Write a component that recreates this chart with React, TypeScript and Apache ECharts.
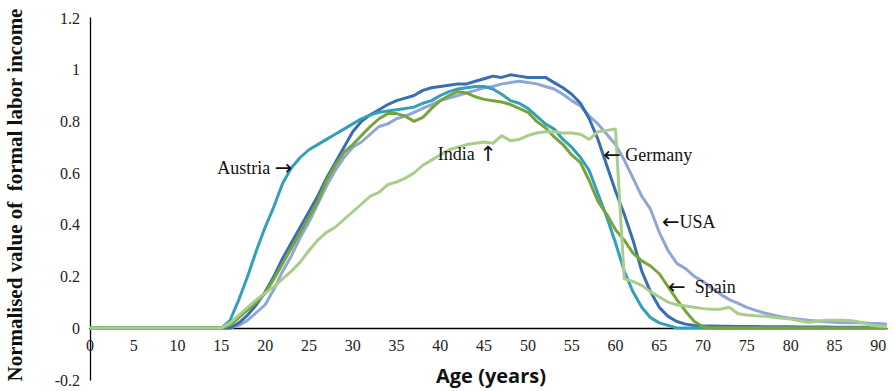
import React, { useEffect, useRef } from "react";
import * as echarts from "echarts";

const ages: number[] = Array.from({ length: 92 }, (_, i) => i);

const zeros16 = [0, 0, 0, 0, 0, 0, 0, 0, 0, 0, 0, 0, 0, 0, 0, 0];

const austria: number[] = [
  ...zeros16,
  0.03, 0.11, 0.2, 0.3, 0.39, 0.47, 0.56, 0.62, 0.66, 0.69,
  0.71, 0.73, 0.75, 0.77, 0.79, 0.81, 0.825, 0.835, 0.84, 0.845,
  0.85, 0.855, 0.87, 0.88, 0.9, 0.915, 0.925, 0.93, 0.935, 0.935,
  0.925, 0.905, 0.88, 0.87, 0.85, 0.82, 0.79, 0.77, 0.73, 0.7,
  0.66, 0.61, 0.52, 0.43, 0.33, 0.22, 0.14, 0.08, 0.04, 0.02,
  0.01, 0, 0, 0, 0, 0, 0, 0, 0, 0,
  0, 0, 0, 0, 0, 0, 0, 0, 0, 0,
  0, 0, 0, 0, 0, 0,
];

const germany: number[] = [
  ...zeros16,
  0, 0.02, 0.05, 0.09, 0.14, 0.2, 0.27, 0.33, 0.39, 0.45,
  0.51, 0.58, 0.64, 0.7, 0.76, 0.8, 0.825, 0.845, 0.865, 0.88,
  0.89, 0.9, 0.92, 0.93, 0.935, 0.94, 0.945, 0.945, 0.955, 0.965,
  0.975, 0.97, 0.98, 0.975, 0.97, 0.97, 0.97, 0.95, 0.93, 0.905,
  0.87, 0.81, 0.73, 0.63, 0.53, 0.44, 0.34, 0.22, 0.14, 0.08,
  0.045, 0.025, 0.015, 0.01, 0.008, 0.008, 0.007, 0.007, 0.006, 0.006,
  0.006, 0.005, 0.005, 0.005, 0.005, 0.004, 0.004, 0.004, 0.004, 0.003,
  0.003, 0.003, 0.003, 0.003, 0.003, 0.003,
];

const usa: number[] = [
  ...zeros16,
  0, 0.01, 0.03, 0.06, 0.09, 0.15, 0.22, 0.28, 0.35, 0.41,
  0.48, 0.55, 0.61, 0.66, 0.7, 0.72, 0.75, 0.78, 0.79, 0.81,
  0.82, 0.835, 0.85, 0.865, 0.88, 0.89, 0.9, 0.91, 0.92, 0.93,
  0.935, 0.945, 0.95, 0.955, 0.95, 0.945, 0.935, 0.925, 0.905, 0.88,
  0.86, 0.82, 0.79, 0.75, 0.71, 0.65, 0.58, 0.51, 0.46, 0.37,
  0.3, 0.25, 0.23, 0.2, 0.18, 0.155, 0.13, 0.11, 0.095, 0.08,
  0.068, 0.058, 0.05, 0.043, 0.038, 0.034, 0.03, 0.027, 0.024, 0.022,
  0.02, 0.02, 0.02, 0.018, 0.017, 0.015,
];

const spain: number[] = [
  ...zeros16,
  0.01, 0.04, 0.07, 0.1, 0.135, 0.19, 0.25, 0.31, 0.37, 0.43,
  0.49, 0.57, 0.63, 0.68, 0.71, 0.745, 0.78, 0.81, 0.83, 0.83,
  0.82, 0.8, 0.815, 0.85, 0.88, 0.9, 0.915, 0.91, 0.895, 0.885,
  0.88, 0.875, 0.865, 0.85, 0.835, 0.8, 0.775, 0.74, 0.71, 0.67,
  0.64, 0.57, 0.49, 0.44, 0.38, 0.34, 0.29, 0.26, 0.24, 0.21,
  0.16, 0.11, 0.065, 0.025, 0.005, 0, 0, 0, 0, 0,
  0, 0, 0, 0, 0, 0, 0, 0, 0, 0,
  0, 0, 0, 0, 0, 0,
];

const india: number[] = [
  ...zeros16,
  0.02, 0.05, 0.08, 0.11, 0.135, 0.16, 0.19, 0.22, 0.255, 0.3,
  0.34, 0.37, 0.39, 0.42, 0.45, 0.48, 0.51, 0.525, 0.555, 0.565,
  0.58, 0.6, 0.63, 0.65, 0.67, 0.69, 0.7, 0.71, 0.715, 0.72,
  0.715, 0.745, 0.725, 0.73, 0.745, 0.755, 0.76, 0.76, 0.755, 0.755,
  0.75, 0.73, 0.76, 0.765, 0.77, 0.19, 0.18, 0.165, 0.14, 0.12,
  0.1, 0.09, 0.085, 0.08, 0.075, 0.073, 0.073, 0.08, 0.055, 0.05,
  0.047, 0.045, 0.042, 0.038, 0.035, 0.028, 0.022, 0.025, 0.03, 0.03,
  0.03, 0.028, 0.022, 0.012, 0.008, 0.005,
];

const seriesNames = ["USA", "Germany", "Austria", "Spain", "India"];
const seriesColors = ["#8EA6D8", "#386FB2", "#32A0B9", "#78A43A", "#A9CD8A"];
const seriesValues = [usa, germany, austria, spain, india];

// upper part of the value axis (0 .. 1.2) and the part below zero (-0.2 .. 0)
const yUpper = [0, 1.2];
const yLower = [-0.2, 0];

// annotation anchors: [age, value, label, arrow, arrowFirst, align]
const annotations: [number, number, string, string, boolean, "left" | "right"][] = [
  [23.1, 0.62, "Austria ", "\u2192", false, "right"],
  [39.7, 0.675, "India ", "\u2191", false, "left"],
  [58.6, 0.67, " Germany", "\u2190", true, "left"],
  [65.3, 0.41, "USA", "\u2190", true, "left"],
  [66.0, 0.16, "  Spain", "\u2190", true, "left"],
];

const serif = "'Liberation Serif', 'Times New Roman', serif";

export default function App() {
  const ref = useRef<HTMLDivElement>(null);
  useEffect(() => {
    if (!ref.current) return;
    const chart = echarts.init(ref.current, undefined, { renderer: "svg" });
    const labelStyle = {
      fontFamily: serif,
      fontSize: 16,
      color: "#222",
    };
    const option: any = {
      animation: false,
      backgroundColor: "#ffffff",
      grid: [
        { left: 90, right: 7, top: 18, bottom: 63, containLabel: false, outerBoundsMode: "none" },
        { left: 90, right: 7, top: 328, bottom: 11, containLabel: false, outerBoundsMode: "none" },
      ],
      xAxis: [
        {
          type: "value",
          gridIndex: 0,
          min: 0,
          max: 91,
          interval: 5,
          axisLine: { onZero: false, lineStyle: { color: "#000", width: 1.3 } },
          axisTick: { show: false },
          splitLine: { show: false },
          axisLabel: { ...labelStyle, margin: 9, showMaxLabel: false },
        },
        {
          type: "value",
          gridIndex: 1,
          min: 0,
          max: 91,
          show: false,
        },
      ],
      yAxis: [
        {
          type: "value",
          gridIndex: 0,
          min: yUpper[0],
          max: yUpper[1],
          interval: 0.2,
          axisLine: { show: true, onZero: false, lineStyle: { color: "#000", width: 1.3 } },
          axisTick: { show: false },
          splitLine: { show: false },
          axisLabel: {
            ...labelStyle,
            margin: 10,
            formatter: (v: number) => String(Math.round(v * 10) / 10),
          },
        },
        {
          type: "value",
          gridIndex: 1,
          min: yLower[0],
          max: yLower[1],
          interval: 0.2,
          axisLine: { show: true, onZero: false, lineStyle: { color: "#000", width: 1.3 } },
          axisTick: { show: false },
          splitLine: { show: false },
          axisLabel: {
            ...labelStyle,
            margin: 10,
            formatter: (v: number) => (Math.abs(v) < 1e-9 ? "" : String(Math.round(v * 10) / 10)),
          },
        },
      ],
      series: seriesNames.map((name, i) => ({
        name,
        type: "line",
        xAxisIndex: 0,
        yAxisIndex: 0,
        data: ages.map((a, j) => [a, seriesValues[i][j]]),
        showSymbol: false,
        symbol: "none",
        smooth: false,
        clip: false,
        lineStyle: { color: seriesColors[i], width: 3 },
        itemStyle: { color: seriesColors[i] },
        z: 2 + i,
      })),
    };
    chart.setOption(option);

    const graphics: any[] = annotations.map(([a, v, label, arrow, arrowFirst, align]) => {
      const p = chart.convertToPixel({ gridIndex: 0 }, [a, v]) as number[];
      const text = arrowFirst ? `{a|${arrow}}{t|${label}}` : `{t|${label}}{a|${arrow}}`;
      return {
        type: "text",
        x: p[0],
        y: p[1],
        z: 10,
        style: {
          text,
          textAlign: align,
          textVerticalAlign: "middle",
          rich: {
            t: { fontFamily: serif, fontSize: 18, fill: "#111", color: "#111" },
            a: { fontFamily: "'DejaVu Sans', sans-serif", fontSize: 21, fill: "#111", color: "#111" },
          },
        },
      };
    });
    graphics.push({
      type: "text",
      x: 491,
      y: 375,
      z: 10,
      style: {
        text: "Age (years)",
        fontFamily: "'Open Sans', Lato, sans-serif",
        fontWeight: "bold",
        fontSize: 20,
        fill: "#111",
        textAlign: "center",
        textVerticalAlign: "middle",
      },
    });
    graphics.push({
      type: "text",
      x: 15,
      y: 195,
      rotation: Math.PI / 2,
      z: 10,
      style: {
        text: "Normalised value of  formal labor income",
        fontFamily: serif,
        fontWeight: "bold",
        fontSize: 21,
        fill: "#111",
        textAlign: "center",
        textVerticalAlign: "middle",
      },
    });
    chart.setOption({ graphic: graphics });

    return () => chart.dispose();
  }, []);
  return (
    <div
      ref={ref}
      style={{ position: "fixed", left: 0, top: 0, width: 894, height: 391 }}
    />
  );
}
